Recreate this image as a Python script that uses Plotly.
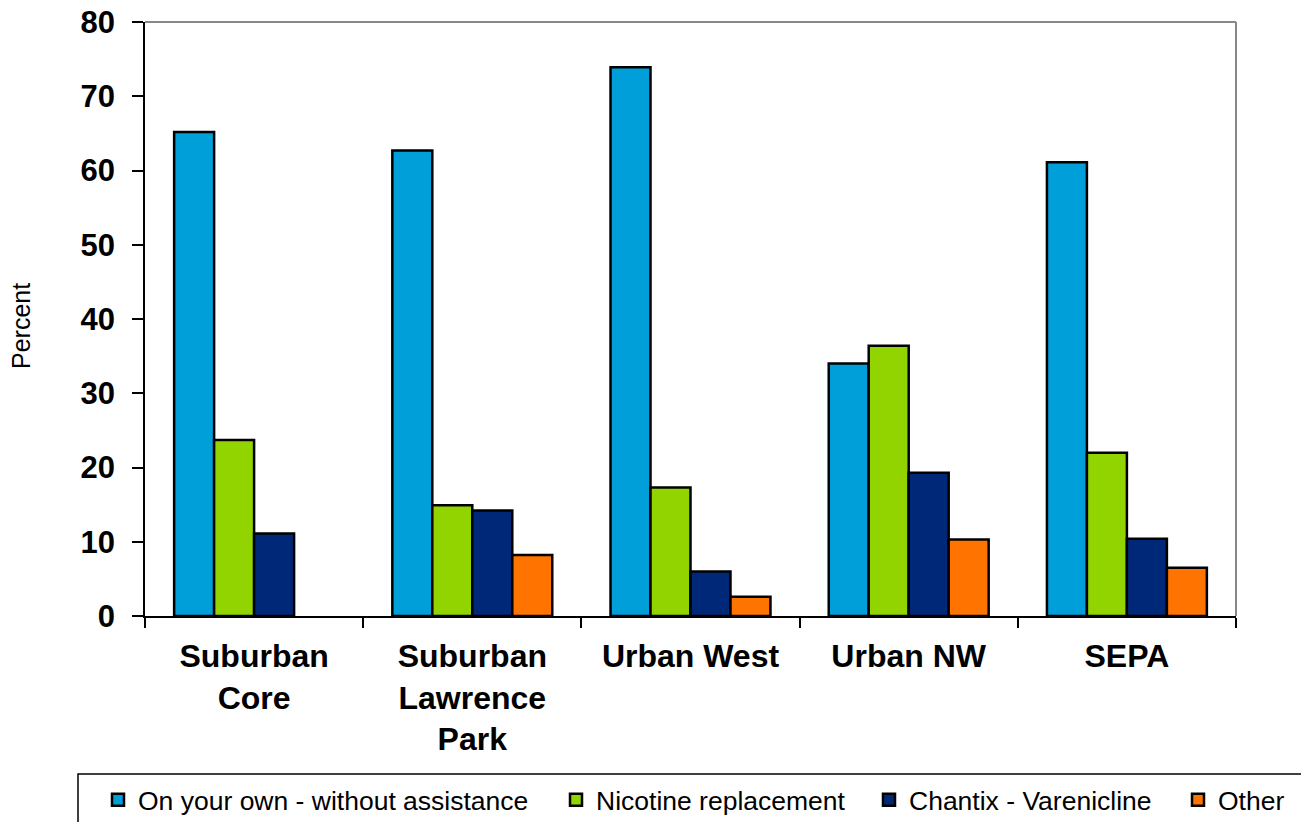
import plotly.graph_objects as go

categories = ["Suburban<br>Core", "Suburban<br>Lawrence<br>Park", "Urban West", "Urban NW", "SEPA"]
series_names = ["On your own - without assistance", "Nicotine replacement", "Chantix - Varenicline", "Other"]
on_your_own = [65.2, 62.7, 73.9, 34.0, 61.1]
nicotine = [23.7, 14.9, 17.3, 36.4, 22.0]
chantix = [11.1, 14.2, 6.0, 19.3, 10.4]
other = [None, 8.2, 2.6, 10.3, 6.5]
y_ticks = [0, 10, 20, 30, 40, 50, 60, 70, 80]

colors = ["#009FDA", "#92D400", "#002878", "#FF7300"]
values = [on_your_own, nicotine, chantix, other]

# pixel geometry
W, H = 1301, 822
L, R, T, B = 145, 1236, 22, 616
pw, ph = R - L, B - T

def px_x(x):
    return (x - L) / pw

def px_y(y):
    return (B - y) / ph

legend_text_x = [138, 596, 909, 1218]
legend_names = ["legend", "legend2", "legend3", "legend4"]

fig = go.Figure()
for i, (name, vals, col) in enumerate(zip(series_names, values, colors)):
    fig.add_trace(go.Bar(
        x=categories, y=vals, name=name,
        marker=dict(color=col, line=dict(color="black", width=2.5)),
        legend=legend_names[i],
    ))

font_family = "Liberation Sans, Arial, sans-serif"
layout_legends = {}
for i, lname in enumerate(legend_names):
    layout_legends[lname] = dict(
        x=px_x(legend_text_x[i] - 40), xanchor="left",
        y=px_y(800), yanchor="middle",
        orientation="h",
        font=dict(family=font_family, size=26.5, color="black"),
        bgcolor="rgba(0,0,0,0)", borderwidth=0,
        itemclick=False, itemdoubleclick=False,
        tracegroupgap=0,
    )

fig.update_layout(
    width=W, height=H,
    margin=dict(l=L, r=W - R, t=T, b=H - B, autoexpand=False),
    paper_bgcolor="white", plot_bgcolor="white",
    barmode="group", bargap=0.267, bargroupgap=0,
    font=dict(family=font_family, color="black"),
    showlegend=True,
    **layout_legends,
)

fig.update_xaxes(
    showline=True, linecolor="black", linewidth=1.5,
    ticks="outside", ticklen=10, tickcolor="black", tickwidth=1.5,
    tickson="boundaries", showgrid=False,
    tickfont=dict(family=font_family, size=32, color="black", weight="bold"),
    ticklabelstandoff=11,
)
fig.update_yaxes(
    range=[0, 80], tickvals=y_ticks,
    showline=True, linecolor="black", linewidth=1.5,
    ticks="outside", ticklen=11, tickcolor="black", tickwidth=1.5,
    showgrid=False, zeroline=False,
    tickfont=dict(family=font_family, size=31, color="black", weight="bold"),
    ticklabelstandoff=11,
)

# gray frame top and right
fig.add_shape(type="line", xref="paper", yref="paper", x0=0, x1=1, y0=1, y1=1,
              line=dict(color="#888888", width=2))
fig.add_shape(type="line", xref="paper", yref="paper", x0=1, x1=1, y0=0, y1=1,
              line=dict(color="#888888", width=2))
# legend border box
fig.add_shape(type="rect", xref="paper", yref="paper",
              x0=px_x(78), x1=px_x(1320), y0=px_y(774), y1=px_y(840),
              line=dict(color="black", width=1.5), fillcolor="rgba(0,0,0,0)", layer="below")

fig.add_annotation(text="Percent", xref="paper", yref="paper",
                   x=px_x(21), y=px_y(326), textangle=-90, showarrow=False,
                   xanchor="center", yanchor="middle",
                   font=dict(family=font_family, size=25, color="black"))

fig.write_html("out.html", config={"displayModeBar": False},
               post_script="document.body.style.margin='0';document.body.style.overflow='hidden';")
